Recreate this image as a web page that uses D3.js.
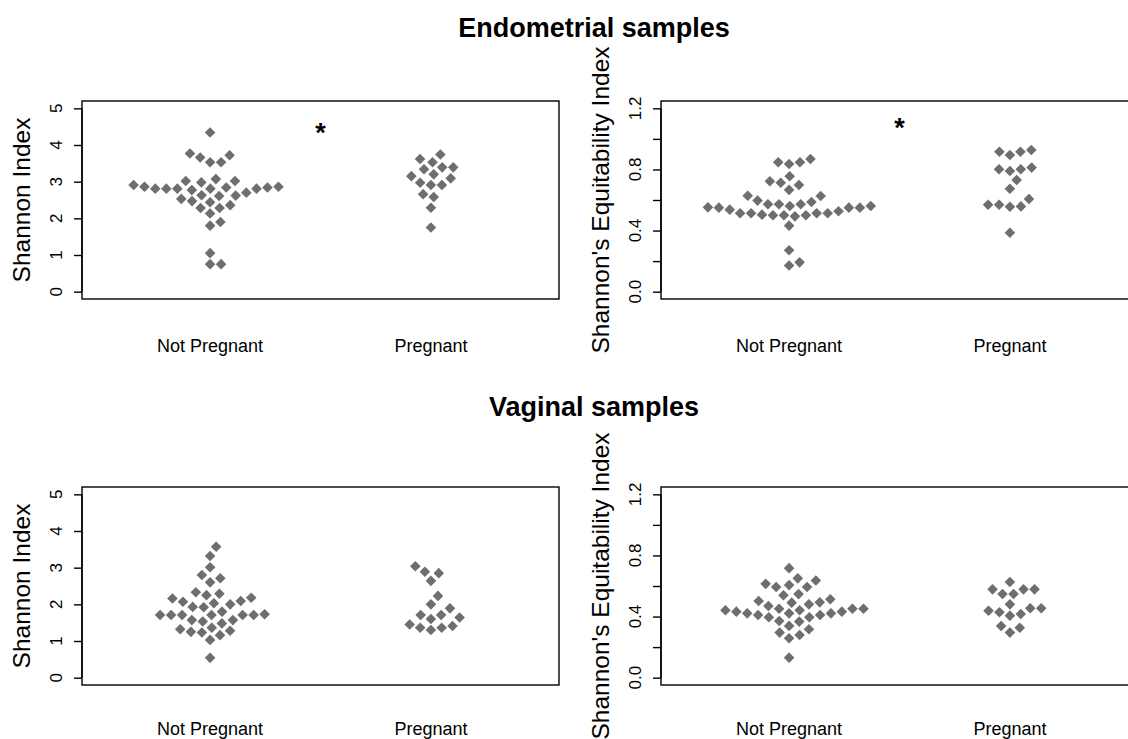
<!DOCTYPE html>
<html>
<head>
<meta charset="utf-8">
<script src="https://cdn.jsdelivr.net/npm/d3@7"></script>
<style>
  html, body { margin: 0; padding: 0; background: #ffffff; }
  svg { display: block; font-family: "Liberation Sans", Arial, sans-serif; }
</style>
</head>
<body>
<svg id="chart" width="1128" height="739"></svg>
<script>
// ---------- data ----------
const groups = ["Not Pregnant", "Pregnant"];
const sectionTitles = ["Endometrial samples", "Vaginal samples"];
const shannonLabel = "Shannon Index";
const equitLabel = "Shannon's Equitability Index";

const shannonTicks = [0, 1, 2, 3, 4, 5];
const shannonTickLabels = ["0", "1", "2", "3", "4", "5"];
const equitTicks = [0, 0.2, 0.4, 0.6, 0.8, 1.0, 1.2];
const equitTickLabels = ["0.0", "", "0.4", "", "0.8", "", "1.2"];

// Endometrial – Shannon index
const endoShannonNotPreg = [4.34, 3.77, 3.66, 3.53, 3.53, 3.72, 3.02, 2.84, 2.84, 2.81, 2.70, 2.98, 2.86,
  3.07, 2.81, 3.02, 2.77, 2.81, 2.81, 2.81, 2.86, 2.91, 2.62, 2.61, 2.63, 2.47, 2.53, 2.44, 2.36,
  2.28, 2.28, 2.13, 1.80, 1.90, 1.05, 0.75, 0.75];
const endoShannonPreg = [3.74, 3.62, 3.53, 3.34, 3.39, 3.39, 3.20, 3.15, 3.09, 2.97, 2.91, 2.91,
  2.66, 2.58, 2.29, 1.75];

// Endometrial – Shannon's equitability
const endoEquitNotPreg = [0.847, 0.836, 0.847, 0.868, 0.755, 0.713, 0.698, 0.723, 0.666, 0.626, 0.628,
  0.587, 0.572, 0.561, 0.572, 0.572, 0.596, 0.550, 0.552, 0.537, 0.513, 0.513, 0.500, 0.500, 0.500,
  0.493, 0.504, 0.513, 0.513, 0.526, 0.550, 0.550, 0.561, 0.432, 0.271, 0.171, 0.192];
const endoEquitPreg = [0.916, 0.895, 0.916, 0.927, 0.801, 0.790, 0.801, 0.812, 0.731, 0.674, 0.569,
  0.569, 0.556, 0.558, 0.607, 0.386];

// Vaginal – Shannon index
const vagShannonNotPreg = [3.57, 3.32, 3.01, 2.80, 2.71, 2.60, 2.33, 2.25, 2.29, 2.16, 2.07, 1.93, 1.92,
  2.03, 2.00, 2.09, 2.18, 1.71, 1.71, 1.71, 1.73, 1.80, 1.71, 1.71, 1.71, 1.57, 1.53, 1.48, 1.57,
  1.32, 1.25, 1.23, 1.36, 1.16, 1.28, 1.03, 0.54];
const vagShannonPreg = [3.04, 2.89, 2.85, 2.64, 2.23, 2.00, 1.89, 1.71, 1.71, 1.60, 1.64, 1.45, 1.36,
  1.30, 1.36, 1.41];

// Vaginal – Shannon's equitability
const vagEquitNotPreg = [0.717, 0.650, 0.636, 0.614, 0.593, 0.606, 0.593, 0.539, 0.547, 0.502, 0.493,
  0.480, 0.469, 0.491, 0.513, 0.451, 0.451, 0.432, 0.421, 0.410, 0.395, 0.441, 0.421, 0.441, 0.395,
  0.410, 0.421, 0.432, 0.451, 0.371, 0.339, 0.367, 0.317, 0.295, 0.258, 0.279, 0.131];
const vagEquitPreg = [0.626, 0.578, 0.578, 0.578, 0.548, 0.548, 0.480, 0.438, 0.428, 0.406, 0.417,
  0.454, 0.454, 0.338, 0.327, 0.295];

// significance markers (x in group units, y in data units)
const starEndoShannon = [1.5, 4.41];
const starEndoEquit = [1.5, 1.09];

// ---------- layout ----------
const svg = d3.select("#chart");
const COL_PT = "#6e6e6e";
const D = 11;          // swarm spacing (px)
const R = 5.3;         // diamond half-diagonal

const panels = [
  { x0: 82,  x1: 559,  y0: 101, y1: 299, ymax: 5,   ticks: shannonTicks, labels: shannonTickLabels, ylab: shannonLabel,
    series: [endoShannonNotPreg, endoShannonPreg], star: starEndoShannon, xlabY: 352 },
  { x0: 661, x1: 1138, y0: 101, y1: 299, ymax: 1.2, ticks: equitTicks, labels: equitTickLabels, ylab: equitLabel,
    series: [endoEquitNotPreg, endoEquitPreg], star: starEndoEquit, xlabY: 352 },
  { x0: 82,  x1: 559,  y0: 487, y1: 685, ymax: 5,   ticks: shannonTicks, labels: shannonTickLabels, ylab: shannonLabel,
    series: [vagShannonNotPreg, vagShannonPreg], star: null, xlabY: 735 },
  { x0: 661, x1: 1138, y0: 487, y1: 685, ymax: 1.2, ticks: equitTicks, labels: equitTickLabels, ylab: equitLabel,
    series: [vagEquitNotPreg, vagEquitPreg], star: null, xlabY: 735 }
];

// beeswarm "swarm" placement (ascending priority), in pixel space
function swarm(vals, y) {
  const pts = vals.map((v, i) => ({ v, i, py: y(v), off: 0 }));
  const order = pts.slice().sort((a, b) => (a.v - b.v) || (a.i - b.i));
  const placed = [];
  for (const p of order) {
    let near = placed.filter(q => Math.abs(p.py - q.py) < D);
    if (near.length) {
      near = near.slice().sort((a, b) => Math.abs(a.off) - Math.abs(b.off));
      const cands = [0];
      near.forEach(q => cands.push(q.off + Math.sqrt(D * D - (p.py - q.py) ** 2)));
      near.forEach(q => cands.push(q.off - Math.sqrt(D * D - (p.py - q.py) ** 2)));
      let best = 0, bestAbs = Infinity;
      for (const c of cands) {
        const bad = near.some(q => ((c - q.off) ** 2 + (p.py - q.py) ** 2) < 0.999 * D * D);
        if (!bad && Math.abs(c) < bestAbs) { best = c; bestAbs = Math.abs(c); }
      }
      p.off = best;
    }
    placed.push(p);
  }
  return pts;
}

const diamond = `M0,${-R}L${R},0L0,${R}L${-R},0Z`;

panels.forEach(p => {
  const x = d3.scaleLinear().domain([0.42, 2.58]).range([p.x0, p.x1]);
  const pad = p.ymax * 0.04;
  const y = d3.scaleLinear().domain([-pad, p.ymax + pad]).range([p.y1, p.y0]);
  const g = svg.append("g");

  // points
  p.series.forEach((vals, gi) => {
    const cx = x(gi + 1);
    g.append("g").selectAll("path").data(swarm(vals, y)).join("path")
      .attr("d", diamond)
      .attr("transform", d => `translate(${cx + d.off},${d.py})`)
      .attr("fill", COL_PT);
  });

  // box
  g.append("rect")
    .attr("x", p.x0).attr("y", p.y0)
    .attr("width", p.x1 - p.x0).attr("height", p.y1 - p.y0)
    .attr("fill", "none").attr("stroke", "#000").attr("stroke-width", 1.4);

  // y axis
  const axis = d3.axisLeft(y).tickValues(p.ticks).tickSize(8).tickFormat("");
  const ag = g.append("g").attr("transform", `translate(${p.x0},0)`).call(axis);
  ag.select(".domain").attr("stroke", "#000").attr("stroke-width", 1.4)
    .attr("d", `M0,${y(p.ticks[0])}V${y(p.ticks[p.ticks.length - 1])}`);
  ag.selectAll(".tick line").attr("stroke", "#000").attr("stroke-width", 1.4);
  p.ticks.forEach((t, i) => {
    if (!p.labels[i]) return;
    g.append("text")
      .attr("transform", `translate(${p.x0 - 20},${y(t)}) rotate(-90)`)
      .attr("text-anchor", "middle")
      .attr("font-size", 17).attr("fill", "#000")
      .text(p.labels[i]);
  });

  // y label
  g.append("text")
    .attr("transform", `translate(${p.x0 - 52},${(p.y0 + p.y1) / 2}) rotate(-90)`)
    .attr("text-anchor", "middle")
    .attr("font-size", 24.5).attr("fill", "#000")
    .text(p.ylab);

  // x category labels
  groups.forEach((name, gi) => {
    g.append("text")
      .attr("x", x(gi + 1)).attr("y", p.xlabY)
      .attr("text-anchor", "middle")
      .attr("font-size", 18).attr("fill", "#000")
      .text(name);
  });

  // significance star
  if (p.star) {
    g.append("text")
      .attr("x", x(p.star[0])).attr("y", y(p.star[1]) + 12)
      .attr("text-anchor", "middle")
      .attr("font-size", 27).attr("font-weight", "bold").attr("fill", "#000")
      .text("*");
  }
});

// section titles
[37, 416].forEach((yy, i) => {
  svg.append("text")
    .attr("x", 594).attr("y", yy)
    .attr("text-anchor", "middle")
    .attr("font-size", 27).attr("font-weight", "bold").attr("fill", "#000")
    .text(sectionTitles[i]);
});
</script>
</body>
</html>
